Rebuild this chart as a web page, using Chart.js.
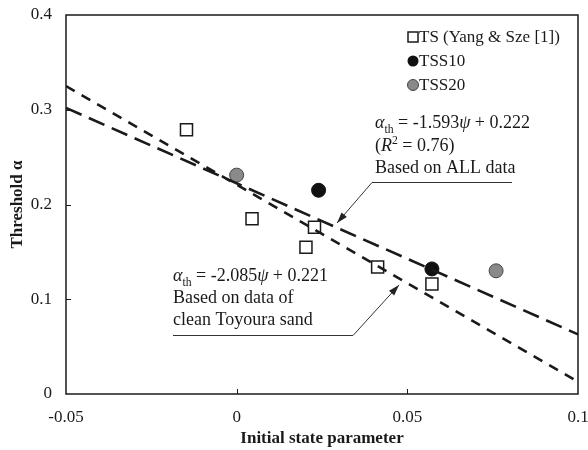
<!DOCTYPE html>
<html>
<head>
<meta charset="utf-8">
<script src="https://cdn.jsdelivr.net/npm/chart.js@4.4.1/dist/chart.umd.min.js"></script>
<style>
  html, body { margin: 0; padding: 0; background: #fff; }
</style>
</head>
<body>
<canvas id="chart" width="588" height="450"></canvas>
<script>
// data
const tsX = [-0.0147, 0.0045, 0.0228, 0.0203, 0.0413, 0.0572];
const tsY = [0.279, 0.185, 0.176, 0.155, 0.134, 0.116];
const tss10X = [0.0240, 0.0572];
const tss10Y = [0.215, 0.132];
const tss20X = [0.0, 0.0760];
const tss20Y = [0.231, 0.130];
const fitX = [-0.05, 0.1];
const fitAllY = [0.302, 0.063];
const fitCleanY = [0.325, 0.013];
const xTicks = [-0.05, 0, 0.05, 0.1];
const xTickLabels = ['-0.05', '0', '0.05', '0.1'];
const yTicks = [0, 0.1, 0.2, 0.3, 0.4];
const yTickLabels = ['0', '0.1', '0.2', '0.3', '0.4'];

const SERIF = '"Liberation Serif", "DejaVu Serif", serif';
const INK = '#1a1a1a';

function pts(xs, ys) {
    return xs.map((x, i) => ({ x: x, y: ys[i] }));
}

// draw text made of pieces (italic, subscript, superscript)
function drawRich(ctx, segs, x, y, size) {
    let cx = x;
    segs.forEach(s => {
        let fs = size, dy = 0;
        if (s.sub) { fs = size * 0.65; dy = size * 0.25; }
        if (s.sup) { fs = size * 0.65; dy = -size * 0.38; }
        ctx.font = (s.italic ? 'italic ' : '') + fs + 'px ' + SERIF;
        ctx.fillText(s.t, cx, y + dy);
        cx += ctx.measureText(s.t).width;
    });
}

function arrow(ctx, x1, y1, x2, y2) {
    ctx.beginPath();
    ctx.moveTo(x1, y1);
    ctx.lineTo(x2, y2);
    ctx.stroke();
    const a = Math.atan2(y2 - y1, x2 - x1);
    const len = 11, w = 3.5;
    ctx.beginPath();
    ctx.moveTo(x2, y2);
    ctx.lineTo(x2 - len * Math.cos(a) + w * Math.sin(a), y2 - len * Math.sin(a) - w * Math.cos(a));
    ctx.lineTo(x2 - len * Math.cos(a) - w * Math.sin(a), y2 - len * Math.sin(a) + w * Math.cos(a));
    ctx.closePath();
    ctx.fill();
}

const decor = {
    id: 'decor',
    afterDatasetsDraw(chart) {
        const ctx = chart.ctx;
        const area = chart.chartArea;
        const xs = chart.scales.x, ys = chart.scales.y;
        ctx.save();

        // frame
        ctx.strokeStyle = INK;
        ctx.lineWidth = 1.5;
        ctx.strokeRect(area.left, area.top, area.right - area.left, area.bottom - area.top);

        // inward tick marks
        ctx.lineWidth = 1;
        ctx.beginPath();
        yTicks.slice(1, -1).forEach(v => {
            const p = Math.round(ys.getPixelForValue(v)) + 0.5;
            ctx.moveTo(area.left, p);
            ctx.lineTo(area.left + 5, p);
        });
        xTicks.slice(1, -1).forEach(v => {
            const p = Math.round(xs.getPixelForValue(v)) + 0.5;
            ctx.moveTo(p, area.bottom);
            ctx.lineTo(p, area.bottom - 5);
        });
        ctx.stroke();

        // legend
        ctx.textBaseline = 'middle';
        ctx.font = '17px ' + SERIF;
        ctx.lineWidth = 1.5;
        ctx.strokeStyle = INK;
        ctx.fillStyle = '#fff';
        ctx.fillRect(408, 32, 10, 10);
        ctx.strokeRect(408, 32, 10, 10);
        ctx.fillStyle = '#111';
        ctx.beginPath();
        ctx.arc(413, 61, 5.5, 0, Math.PI * 2);
        ctx.fill();
        ctx.fillStyle = '#8a8a8a';
        ctx.beginPath();
        ctx.arc(413, 85, 5.5, 0, Math.PI * 2);
        ctx.fill();
        ctx.lineWidth = 1;
        ctx.strokeStyle = '#444';
        ctx.stroke();
        ctx.fillStyle = INK;
        ctx.fillText('TS (Yang & Sze [1])', 419, 38);
        ctx.fillText('TSS10', 419, 62);
        ctx.fillText('TSS20', 419, 86);

        // annotations
        ctx.textBaseline = 'alphabetic';
        drawRich(ctx, [
            { t: 'α', italic: true }, { t: 'th', sub: true }, { t: ' = -1.593' },
            { t: 'ψ', italic: true }, { t: ' + 0.222' }
        ], 375, 128, 18);
        drawRich(ctx, [
            { t: '(' }, { t: 'R', italic: true }, { t: '2', sup: true }, { t: ' = 0.76)' }
        ], 375, 151, 18);
        drawRich(ctx, [{ t: 'Based on ALL data' }], 375, 173, 18);

        drawRich(ctx, [
            { t: 'α', italic: true }, { t: 'th', sub: true }, { t: ' = -2.085' },
            { t: 'ψ', italic: true }, { t: ' + 0.221' }
        ], 173, 281, 18);
        drawRich(ctx, [{ t: 'Based on data of' }], 173, 303, 18);
        drawRich(ctx, [{ t: 'clean Toyoura sand' }], 173, 325, 18);

        ctx.strokeStyle = '#333';
        ctx.fillStyle = '#222';
        ctx.lineWidth = 1;
        ctx.beginPath();
        ctx.moveTo(512, 182.5);
        ctx.lineTo(372, 182.5);
        ctx.stroke();
        arrow(ctx, 372, 182.5, 337, 223);
        ctx.beginPath();
        ctx.moveTo(173, 335.5);
        ctx.lineTo(353, 335.5);
        ctx.stroke();
        arrow(ctx, 353, 335.5, 399, 285);

        ctx.restore();
    }
};

const tickFont = { family: SERIF, size: 17 };
const titleFont = { family: SERIF, size: 17, weight: 'bold' };

function noEdgePadding(s) {
    s.paddingLeft = 0;
    s.paddingRight = 0;
    s.paddingTop = 0;
    s.paddingBottom = 0;
}

new Chart(document.getElementById('chart'), {
    type: 'scatter',
    data: {
        datasets: [
            {
                type: 'line', label: 'fit all', data: pts(fitX, fitAllY),
                borderColor: INK, borderWidth: 2.6, borderDash: [17, 8],
                pointRadius: 0, fill: false
            },
            {
                type: 'line', label: 'fit clean', data: pts(fitX, fitCleanY),
                borderColor: INK, borderWidth: 2.6, borderDash: [10, 8],
                pointRadius: 0, fill: false
            },
            {
                label: 'TS (Yang & Sze [1])', data: pts(tsX, tsY),
                pointStyle: 'rect', pointRadius: 8.5, borderWidth: 1.5,
                borderColor: INK, backgroundColor: '#fff'
            },
            {
                label: 'TSS10', data: pts(tss10X, tss10Y),
                pointStyle: 'circle', pointRadius: 7, borderWidth: 1,
                borderColor: '#111', backgroundColor: '#111'
            },
            {
                label: 'TSS20', data: pts(tss20X, tss20Y),
                pointStyle: 'circle', pointRadius: 7, borderWidth: 1,
                borderColor: '#444', backgroundColor: '#8a8a8a'
            }
        ]
    },
    options: {
        responsive: false,
        animation: false,
        layout: { padding: { top: 15, right: 10, left: 0, bottom: 0 } },
        plugins: {
            legend: { display: false },
            tooltip: { enabled: false }
        },
        scales: {
            x: {
                type: 'linear', min: -0.05, max: 0.1,
                afterBuildTicks: s => { s.ticks = xTicks.map(v => ({ value: v })); },
                afterFit: s => { s.height = 56; noEdgePadding(s); },
                ticks: {
                    callback: (v, i) => xTickLabels[i],
                    font: tickFont, color: INK, padding: 13,
                    maxRotation: 0, autoSkip: false
                },
                grid: { display: false, drawTicks: false },
                border: { display: false },
                title: {
                    display: true, text: 'Initial state parameter',
                    font: titleFont, color: INK, padding: { top: 0, bottom: 1 }
                }
            },
            y: {
                type: 'linear', min: 0, max: 0.4,
                afterBuildTicks: s => { s.ticks = yTicks.map(v => ({ value: v })); },
                afterFit: s => { s.width = 66; noEdgePadding(s); },
                ticks: {
                    callback: (v, i) => yTickLabels[i],
                    font: tickFont, color: INK, padding: 14, autoSkip: false
                },
                grid: { display: false, drawTicks: false },
                border: { display: false },
                title: {
                    display: true, text: 'Threshold α',
                    font: titleFont, color: INK, padding: { top: 7, bottom: 0 }
                }
            }
        }
    },
    plugins: [decor]
});
</script>
</body>
</html>
